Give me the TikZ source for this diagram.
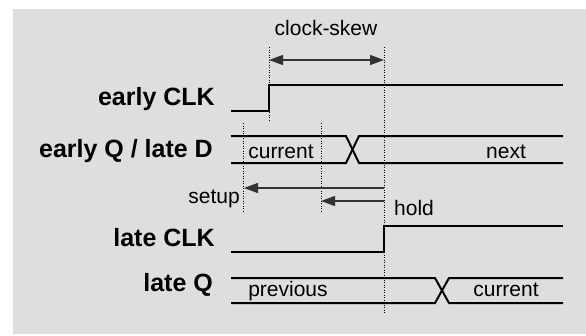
\documentclass[tikz,border=0pt]{standalone}
\usepackage{fontspec}
\setmainfont{Liberation Sans}
\usetikzlibrary{arrows.meta}
\definecolor{bg}{HTML}{DEDEDE}
\definecolor{arr}{HTML}{333333}
\tikzset{
  sig/.style={line width=2pt, line cap=butt},
  guide/.style={line width=0.5pt, dotted},
  dim/.style={draw=arr, line width=1.3pt, -{Triangle[length=14pt,width=10pt]}},
  dimboth/.style={draw=arr, line width=1.3pt, {Triangle[length=14pt,width=10pt]}-{Triangle[length=14pt,width=10pt]}},
  lab/.style={font=\fontsize{25}{27}\selectfont\bfseries, inner sep=0pt, anchor=base east},
  txt/.style={font=\fontsize{21}{23}\selectfont, inner sep=0pt},
}
\begin{document}
\begin{tikzpicture}[x=1pt,y=-1pt]
\useasboundingbox (0,0) rectangle (586,335);
\fill[bg] (13,9) rectangle (586,334);
% guides
\draw[guide] (269,47) -- (269,122);
\draw[guide] (384,47) -- (384,314);
\draw[guide] (243,123) -- (243,212);
\draw[guide] (321,123) -- (321,212);
% clock skew
\coordinate (csL) at (269,60);
\coordinate (csR) at (384,60);
\draw[dimboth] (csL) -- (csR);
\node[txt, anchor=base] (cs) at (326,35) {clock-skew};
% early CLK
\node[lab] (l1) at (215,105) {early CLK};
\draw[sig] (231,111) -- (269,111) -- (269,85) -- (563,85);
% early Q / late D
\node[lab] (l2) at (213,157) {early Q / late D};
\draw[sig] (231,136) -- (346,136) -- (359,163) -- (563,163);
\draw[sig] (231,163) -- (346,163) -- (359,136) -- (563,136);
\node[txt, anchor=base] (c1) at (281,158) {current};
\node[txt, anchor=base] (n1) at (506,158) {next};
% setup / hold
\coordinate (sR) at (384,188);
\coordinate (sL) at (244,188);
\coordinate (hR) at (384,201);
\coordinate (hL) at (321,201);
\draw[dim] (sR) -- (sL);
\draw[dim] (hR) -- (hL);
\node[txt, anchor=base east] (su) at (240,203) {setup};
\node[txt, anchor=base west] (ho) at (394,215) {hold};
% late CLK
\node[lab] (l3) at (215,246) {late CLK};
\draw[sig] (231,252) -- (384,252) -- (384,226) -- (563,226);
% late Q
\node[lab] (l4) at (213,291) {late Q};
\draw[sig] (231,278) -- (435,278) -- (449,303) -- (563,303);
\draw[sig] (231,303) -- (435,303) -- (449,278) -- (563,278);
\node[txt, anchor=base] (pv) at (288,296) {previous};
\node[txt, anchor=base] (c2) at (506,296) {current};
\end{tikzpicture}
\end{document}
